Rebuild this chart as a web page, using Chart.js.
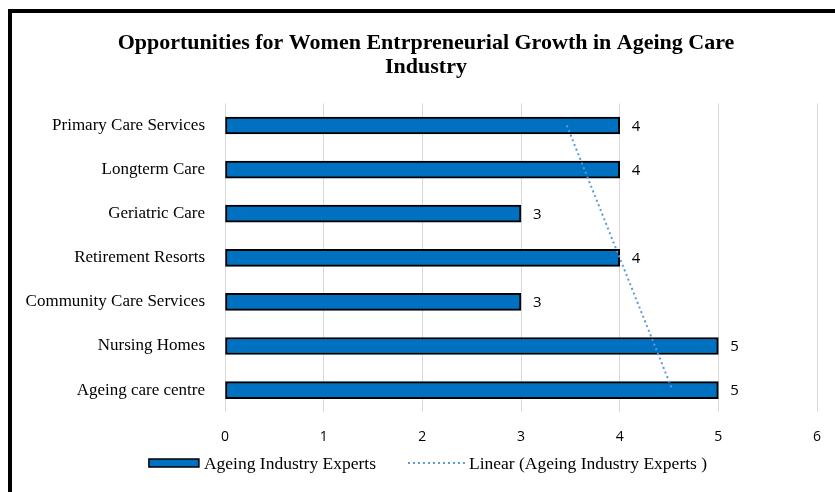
<!DOCTYPE html>
<html>
<head>
<meta charset="utf-8">
<title>Opportunities for Women Entrepreneurial Growth</title>
<script src="https://cdn.jsdelivr.net/npm/chart.js@4.4.1/dist/chart.umd.min.js"></script>
<style>
    html, body { margin: 0; padding: 0; background: #fff; }
    #wrap { position: relative; width: 835px; height: 492px; }
</style>
</head>
<body>
<div id="wrap"><canvas id="barChart"></canvas></div>
<script>
const categories = [
    'Primary Care Services',
    'Longterm Care',
    'Geriatric Care',
    'Retirement Resorts',
    'Community Care Services',
    'Nursing Homes',
    'Ageing care centre'
];
const expertScores = [4, 4, 3, 4, 3, 5, 5];
const xTicks = [0, 1, 2, 3, 4, 5, 6];

const seriesName = 'Ageing Industry Experts';
const trendName = 'Linear (Ageing Industry Experts )';

// least squares fit over category position, evaluated at every category
function linearTrend(values) {
    const n = values.length;
    const xs = values.map((v, i) => i);
    const mx = xs.reduce((a, b) => a + b, 0) / n;
    const my = values.reduce((a, b) => a + b, 0) / n;
    let sxy = 0, sxx = 0;
    xs.forEach((x, i) => {
        sxy += (x - mx) * (values[i] - my);
        sxx += (x - mx) * (x - mx);
    });
    const slope = sxy / sxx;
    return xs.map(x => my + slope * (x - mx));
}

const trendValues = linearTrend(expertScores);

const barColor = '#0070c0';
const trendColor = '#5b9bd5';
const serif = "'Liberation Serif', 'Times New Roman', serif";
const sans = "'Open Sans', 'Liberation Sans', sans-serif";

// value next to the end of each bar
const valueLabels = {
    id: 'valueLabels',
    afterDatasetsDraw(chart) {
        const ctx = chart.ctx;
        const meta = chart.getDatasetMeta(1);
        ctx.save();
        ctx.font = '15px ' + sans;
        ctx.fillStyle = '#000';
        ctx.textAlign = 'left';
        ctx.textBaseline = 'middle';
        meta.data.forEach((bar, i) => {
            ctx.fillText(String(expertScores[i]), bar.x + 12, bar.y + 1);
        });
        ctx.restore();
    }
};

// legend row under the axis
const bottomLegend = {
    id: 'bottomLegend',
    afterDraw(chart) {
        const ctx = chart.ctx;
        const y = 463;
        ctx.save();
        ctx.font = '17.5px ' + serif;
        const w1 = ctx.measureText(seriesName).width;
        const w2 = ctx.measureText(trendName).width;
        const boxW = 50, lineW = 58;
        const total = boxW + 5 + w1 + 32 + lineW + 3 + w2;
        let x = 428 - total / 2;

        ctx.fillStyle = barColor;
        ctx.fillRect(x, y - 4, boxW, 8);
        ctx.strokeStyle = '#000';
        ctx.lineWidth = 1.5;
        ctx.strokeRect(x, y - 4, boxW, 8);
        x += boxW + 5;

        ctx.fillStyle = '#000';
        ctx.textBaseline = 'middle';
        ctx.fillText(seriesName, x, y + 1);
        x += w1 + 32;

        ctx.strokeStyle = trendColor;
        ctx.lineWidth = 2;
        ctx.setLineDash([2, 3]);
        ctx.beginPath();
        ctx.moveTo(x, y);
        ctx.lineTo(x + lineW, y);
        ctx.stroke();
        ctx.setLineDash([]);
        x += lineW + 3;

        ctx.fillText(trendName, x, y + 1);
        ctx.restore();
    }
};

// thick frame on the top and left edges
const frame = {
    id: 'frame',
    beforeDraw(chart) {
        const ctx = chart.ctx;
        ctx.save();
        ctx.fillStyle = '#fff';
        ctx.fillRect(0, 0, chart.width, chart.height);
        ctx.fillStyle = '#000';
        ctx.fillRect(8, 9, chart.width - 8, 4);
        ctx.fillRect(8, 9, 4, chart.height - 9);
        ctx.restore();
    }
};

// title sits a little right of the canvas centre
const titleShift = {
    id: 'titleShift',
    afterLayout(chart) {
        if (chart.titleBlock) {
            chart.titleBlock.left += 23;
        }
    }
};

const barChart = document.getElementById('barChart');

new Chart(barChart, {
    type: 'bar',
    data: {
        labels: categories,
        datasets: [
            {
                type: 'line',
                label: trendName,
                data: trendValues,
                indexAxis: 'y',
                borderColor: trendColor,
                borderWidth: 2,
                borderDash: [2, 3],
                pointRadius: 0,
                fill: false,
                order: 0,
            },
            {
                label: seriesName,
                data: expertScores,
                backgroundColor: barColor,
                borderColor: '#000',
                borderWidth: 2,
                borderSkipped: false,
                barThickness: 17,
                order: 1,
            },
        ],
    },
    options: {
        indexAxis: 'y',
        responsive: true,
        maintainAspectRatio: false,
        animation: false,
        layout: {
            padding: {
                top: 12,
                left: 12,
                right: 18,
                bottom: 31
            }
        },
        plugins: {
            title: {
                display: true,
                text: ['Opportunities for Women Entrpreneurial Growth in Ageing Care', 'Industry'],
                color: '#000',
                font: { family: serif, size: 22, weight: 'bold', lineHeight: 1.1 },
                padding: { top: 19, bottom: 24 },
            },
            legend: { display: false },
            tooltip: { enabled: false },
        },
        scales: {
            x: {
                min: xTicks[0],
                max: xTicks[xTicks.length - 1],
                afterBuildTicks(scale) {
                    scale.ticks = xTicks.map(v => ({ value: v }));
                },
                afterFit(scale) {
                    scale.paddingLeft = 0;
                    scale.paddingRight = 0;
                },
                grid: { color: '#d9d9d9', lineWidth: 1, drawTicks: false },
                border: { display: false },
                ticks: {
                    color: '#000',
                    padding: 16,
                    font: { family: sans, size: 14 },
                },
            },
            y: {
                grid: { display: false, drawTicks: false },
                border: { display: false },
                afterFit(scale) {
                    scale.width = 213;
                },
                ticks: {
                    color: '#000',
                    padding: 20,
                    font: { family: serif, size: 17 },
                },
            },
        },
    },
    plugins: [frame, titleShift, valueLabels, bottomLegend],
});
</script>
</body>
</html>
